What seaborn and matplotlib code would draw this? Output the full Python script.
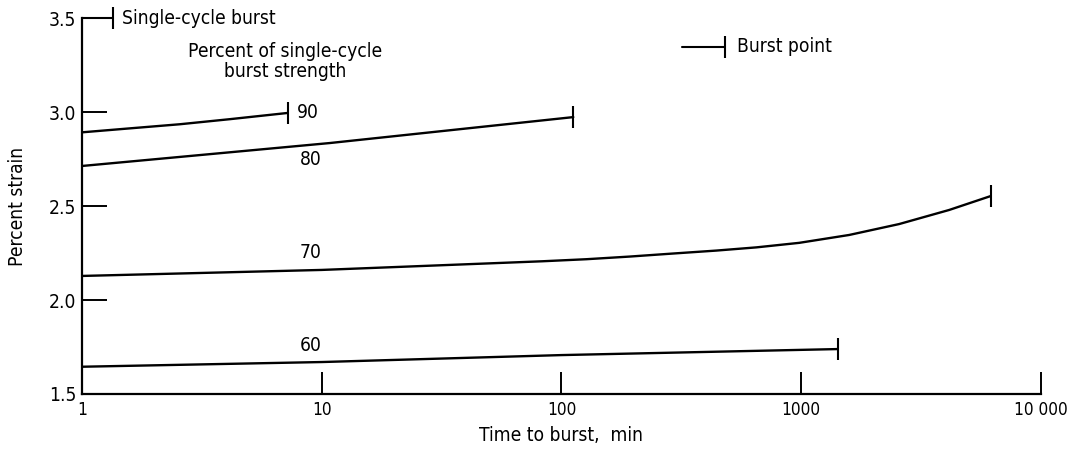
import matplotlib
matplotlib.use("Agg")
import matplotlib.pyplot as plt
import seaborn as sns
import pandas as pd

# Percent of single-cycle burst strength -> (time to burst, percent strain)
t90 = [1, 1.58, 2.56, 4.14, 7.2]
s90 = [2.892, 2.913, 2.935, 2.962, 2.995]
t80 = [1, 10.8, 112]
s80 = [2.713, 2.835, 2.973]
t70 = [1, 10, 55, 83, 127, 192, 290, 443, 650, 980, 1585, 2560, 4140, 6170]
s70 = [2.128, 2.16, 2.197, 2.206, 2.217, 2.231, 2.247, 2.263, 2.280, 2.304,
       2.346, 2.404, 2.479, 2.553]
t60 = [1, 10, 100, 1420]
s60 = [1.645, 1.67, 1.707, 1.739]

curves = [("90", t90, s90), ("80", t80, s80), ("70", t70, s70), ("60", t60, s60)]
label_pos = {"90": (7.9, 2.995), "80": (8.1, 2.745), "70": (8.1, 2.255), "60": (8.1, 1.76)}

single_t = [1, 1.35]
single_s = [3.5, 3.5]

xticks = [1, 10, 100, 1000, 10000]
xticklabels = ["1", "10", "100", "1000", "10 000"]
yticks = [1.5, 2.0, 2.5, 3.0, 3.5]
yticklabels = ["1.5", "2.0", "2.5", "3.0", "3.5"]

FS = 13.8

sns.set_theme(style="white")
plt.rcParams["font.family"] = ["DejaVu Sans"]
plt.rcParams["font.stretch"] = "condensed"
plt.rcParams["font.size"] = FS
plt.rcParams["text.color"] = "black"
plt.rcParams["axes.labelcolor"] = "black"
plt.rcParams["xtick.color"] = "black"
plt.rcParams["ytick.color"] = "black"

fig = plt.figure(figsize=(10.69, 4.51), dpi=100)
ax = fig.add_axes([0.0767, 0.1264, 0.8971, 0.8336])

rows = []
for name, t, s in curves:
    for ti, si in zip(t, s):
        rows.append({"pct": name, "time": ti, "strain": si})
df = pd.DataFrame(rows)

sns.lineplot(data=df, x="time", y="strain", units="pct", estimator=None,
             color="black", linewidth=1.7, ax=ax, legend=False)

# burst point markers
for name, t, s in curves:
    ax.plot(t[-1], s[-1], marker="|", markersize=16, mew=1.5, color="black",
            clip_on=False)
    lx, ly = label_pos[name]
    ax.text(lx, ly, name, fontsize=FS, ha="left", va="center")

# single-cycle burst
ax.plot(single_t, single_s, color="black", linewidth=1.5, clip_on=False)
ax.plot(single_t[-1], single_s[-1], marker="|", markersize=16, mew=1.5,
        color="black", clip_on=False)
ax.text(1.47, 3.5, "Single-cycle burst", fontsize=FS, ha="left", va="center")

ax.text(0.212, 0.885, "Percent of single-cycle\nburst strength", transform=ax.transAxes,
        fontsize=FS, ha="center", va="center", linespacing=1.1)

# key
ax.plot([0.626, 0.670], [0.923, 0.923], transform=ax.transAxes, color="black",
        linewidth=1.5, clip_on=False)
ax.plot([0.670], [0.923], transform=ax.transAxes, marker="|", markersize=16, mew=1.5,
        color="black", clip_on=False)
ax.text(0.683, 0.923, "Burst point", transform=ax.transAxes, fontsize=FS,
        ha="left", va="center")

ax.set_xscale("log")
ax.set_xlim(1, 10000)
ax.set_ylim(1.5, 3.5)
ax.set_xticks(xticks)
ax.set_xticklabels(xticklabels)
ax.minorticks_off()
ax.set_yticks(yticks)
ax.set_yticklabels(yticklabels)
ax.tick_params(axis="both", which="major", direction="in", length=16, width=1.4,
               color="black", labelsize=FS, pad=5, bottom=True, left=True)
ax.tick_params(axis="x", labelsize=12.3)
ax.tick_params(axis="y", length=18, pad=4)

for side in ["top", "right"]:
    ax.spines[side].set_visible(False)
for side in ["left", "bottom"]:
    ax.spines[side].set_color("black")
    ax.spines[side].set_linewidth(1.6)

ax.set_xlabel("Time to burst,  min", fontsize=FS, labelpad=5)
ax.set_ylabel("Percent strain", fontsize=FS, labelpad=16)

fig.savefig("out.png", dpi=100)
